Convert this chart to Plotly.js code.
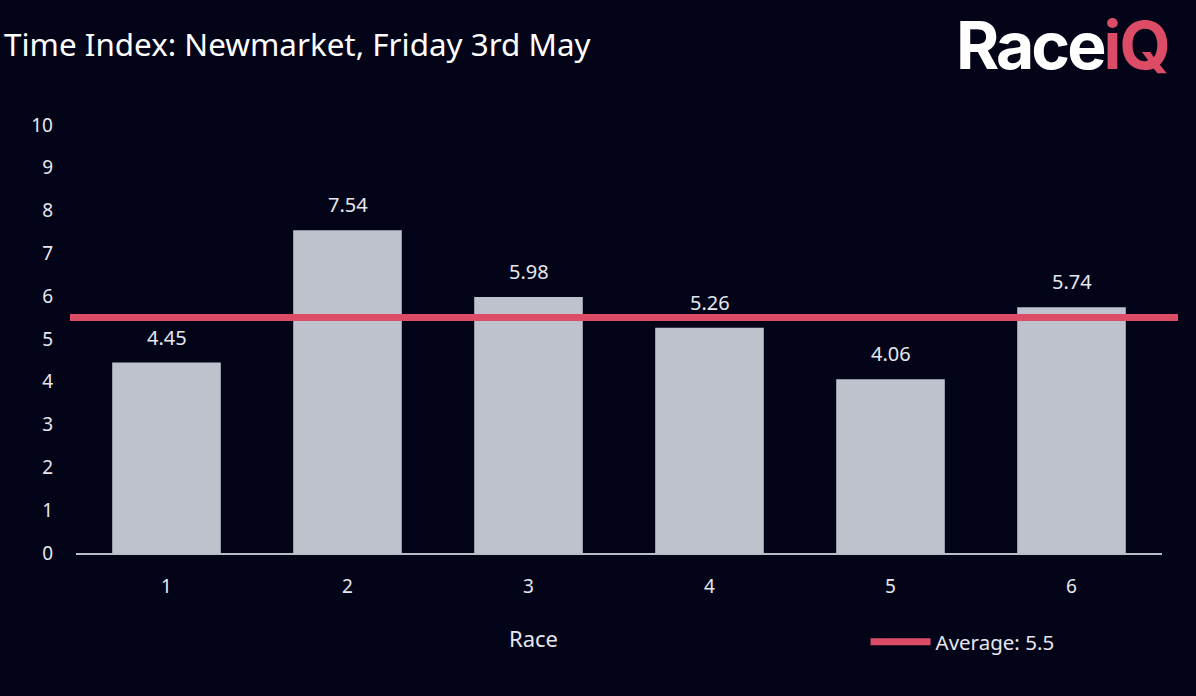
<!DOCTYPE html>
<html>
<head>
<meta charset="utf-8">
<script src="https://cdn.plot.ly/plotly-3.0.1.min.js"></script>
<style>
  html, body { margin: 0; padding: 0; background: #040419; }
  #chart { width: 1196px; height: 696px; }
</style>
</head>
<body>
<div id="chart"></div>
<script>
const races = ['1', '2', '3', '4', '5', '6'];
const timeIndex = [4.45, 7.54, 5.98, 5.26, 4.06, 5.74];
const averageValue = 5.5;
const averageLabel = 'Average: 5.5';
const xTitle = 'Race';
const yTicks = [0, 1, 2, 3, 4, 5, 6, 7, 8, 9, 10];

const textColor = '#e6e7ee';
const barColor = '#bec2cc';
const avgColor = '#dc4c66';
const bg = '#040419';

const barTrace = {
  type: 'bar',
  x: races,
  y: timeIndex,
  marker: { color: barColor, line: { width: 0 } },
  showlegend: false,
  hoverinfo: 'x+y',
  xaxis: 'x',
  yaxis: 'y'
};

const avgTrace = {
  type: 'scatter',
  mode: 'lines',
  x: [0, 1],
  y: [averageValue, averageValue],
  line: { color: avgColor, width: 7 },
  name: averageLabel,
  xaxis: 'x2',
  yaxis: 'y',
  hoverinfo: 'name'
};

const valueLabels = races.map((r, i) => ({
  x: i, y: timeIndex[i], xref: 'x', yref: 'y',
  text: timeIndex[i].toFixed(2),
  showarrow: false, yanchor: 'bottom', yshift: 10,
  font: { family: 'Noto Sans, sans-serif', size: 20, color: textColor }
}));

const raceTitle = {
  xref: 'paper', yref: 'paper', x: (533 - 70) / 1108, y: (553 - 638) / 428,
  xanchor: 'center', yanchor: 'middle', showarrow: false,
  text: xTitle,
  font: { family: 'Noto Sans, sans-serif', size: 22, color: textColor }
};

const logo = {
  xref: 'paper', yref: 'paper', x: (1171 - 70) / 1108, y: (553 - 45) / 428,
  xanchor: 'right', yanchor: 'middle', showarrow: false,
  text: '<span style="color:#ffffff;letter-spacing:-3px">Race</span><span style="color:#dc4c66;letter-spacing:-2px">iQ</span>',
  font: { family: 'Inter, sans-serif', size: 66, weight: 700, color: '#ffffff' }
};

const layout = {
  width: 1196,
  height: 696,
  paper_bgcolor: bg,
  plot_bgcolor: 'rgba(0,0,0,0)',
  margin: { l: 70, r: 18, t: 125, b: 143 },
  font: { family: 'Noto Sans, sans-serif', color: textColor, size: 19 },
  title: {
    text: 'Time Index: Newmarket, Friday 3rd May',
    x: 4 / 1196, xanchor: 'left', xref: 'container',
    y: 1 - 45 / 696, yanchor: 'middle', yref: 'container',
    font: { family: 'Noto Sans, sans-serif', size: 31.4, color: '#ffffff' }
  },
  bargap: 0.4,
  xaxis: {
    type: 'category',
    domain: [6 / 1108, 1092 / 1108],
    range: [-0.5, 5.5],
    showline: true, linecolor: '#b9bdc8', linewidth: 1.5,
    showgrid: false, zeroline: false, ticks: '',
    ticklabelstandoff: 16,
    tickfont: { size: 19, color: textColor },
    fixedrange: true
  },
  xaxis2: {
    domain: [0, 1], range: [0, 1], anchor: 'y', visible: false, fixedrange: true
  },
  yaxis: {
    range: [0, 10],
    tickvals: yTicks,
    ticktext: yTicks.map(String),
    showgrid: false, zeroline: false, showline: false, ticks: '',
    ticklabelstandoff: 22,
    tickfont: { size: 19, color: textColor },
    fixedrange: true
  },
  showlegend: true,
  legend: {
    orientation: 'h',
    x: 0.718, xanchor: 'left',
    y: -0.208, yanchor: 'middle',
    bgcolor: 'rgba(0,0,0,0)',
    font: { size: 20.5, color: textColor },
    itemwidth: 60
  },
  annotations: valueLabels.concat([raceTitle, logo])
};

Plotly.newPlot('chart', [barTrace, avgTrace], layout, { displayModeBar: false, staticPlot: true });
</script>
</body>
</html>
